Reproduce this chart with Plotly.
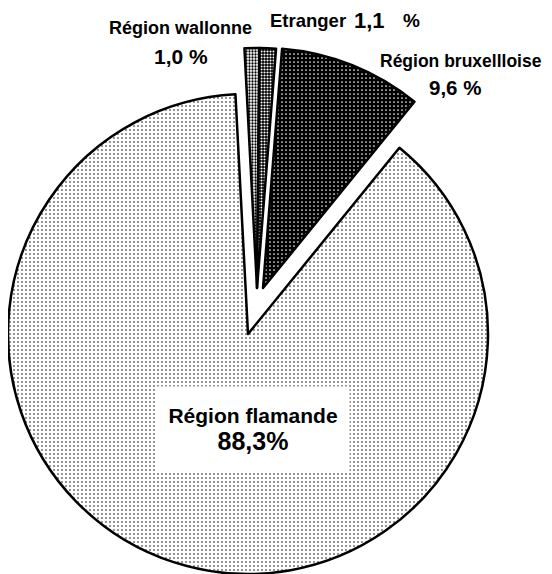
import plotly.graph_objects as go

# ---- data ----
labels = ["Région wallonne", "Etranger", "Région bruxellloise", "Région flamande"]
values = [1.0, 1.1, 9.6, 88.3]
value_text = ["1,0 %", "1,1", "9,6 %", "88,3%"]

OFF = 8  # page body margin offset
W, H = 552 - OFF, 574 - OFF
R = 240
ROT = -3

# pattern style per slice
pat_shape = [".", ".", ".", "."]
pat_bg = ["white", "black", "black", "white"]
pat_fg = ["black", "white", "white", "black"]
pat_size = [3, 3, 4, 4]
pat_sol = [0.45, 0.4, 0.14, 0.12]

# groups of slices drawn as exploded pieces (index list, centre in px of screenshot)
groups = [
    ([3], (248, 334)),
    ([2], (263, 288)),
    ([0, 1], (257, 288)),
]


def dom(cx, cy, r):
    cx -= OFF
    cy -= OFF
    x0, x1 = (cx - r) / W, (cx + r) / W
    y0, y1 = 1 - (cy + r) / H, 1 - (cy - r) / H
    clamp = lambda v: max(0.0, min(1.0, v))
    return dict(x=[clamp(x0), clamp(x1)], y=[clamp(y0), clamp(y1)])


fig = go.Figure()
T = "rgba(0,0,0,0)"
for idx, (cx, cy) in groups:
    show = [i in idx for i in range(len(values))]
    fig.add_trace(go.Pie(
        labels=labels,
        values=values,
        sort=False,
        direction="clockwise",
        rotation=ROT,
        textinfo="none",
        hoverinfo="label+value",
        showlegend=False,
        domain=dom(cx, cy, R),
        marker=dict(
            colors=[pat_bg[i] if show[i] else T for i in range(len(values))],
            line=dict(color=["black" if s else T for s in show],
                      width=[2.5 if s else 0 for s in show]),
            pattern=dict(
                shape=[pat_shape[i] if show[i] else "" for i in range(len(values))],
                fgcolor=[pat_fg[i] if show[i] else T for i in range(len(values))],
                bgcolor=[pat_bg[i] if show[i] else T for i in range(len(values))],
                size=pat_size,
                solidity=pat_sol,
                fillmode="replace",
            ),
        ),
    ))

FONT = "Liberation Sans, Arial, sans-serif"


def ann(text, px, py, size, **kw):
    d = dict(text=text, x=(px - OFF) / W, y=1 - (py - OFF) / H, xref="paper", yref="paper",
             showarrow=False, xanchor="center", yanchor="middle",
             font=dict(family=FONT, size=size, color="black", weight="bold"))
    d.update(kw)
    fig.add_annotation(**d)


ann(labels[0], 180, 28, 18)
ann(value_text[0], 181, 57, 21)
ann(labels[1], 308, 20, 18.5)
ann(value_text[1], 369, 20, 22)
ann("%", 411, 20, 19)
ann(labels[2], 461, 61, 17.5)
ann(value_text[2], 455, 87, 20.5)
ann(labels[3] + "<br><span style='font-size:25px'>" + value_text[3] + "</span>",
    253, 429, 21, bgcolor="white", width=192, height=85, borderpad=0)

fig.update_layout(
    width=W, height=H,
    margin=dict(l=0, r=0, t=0, b=0, pad=0),
    paper_bgcolor="white",
    plot_bgcolor="white",
)

fig.write_html("out.html")
